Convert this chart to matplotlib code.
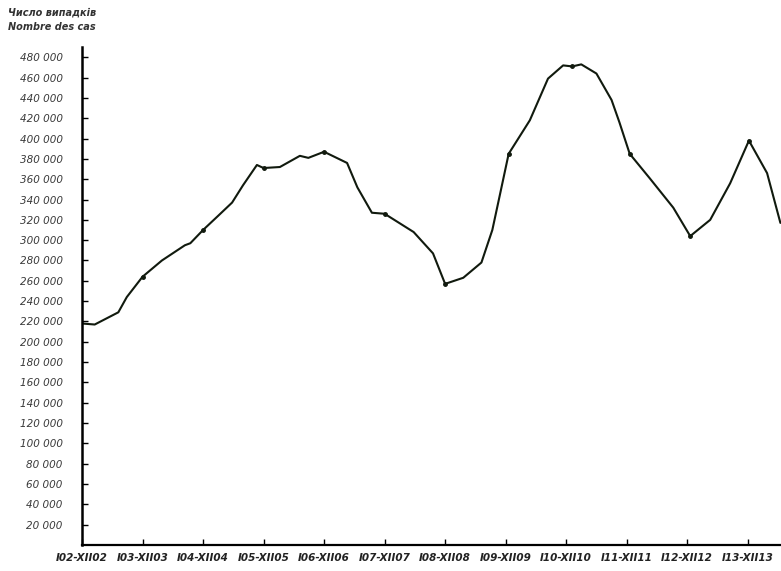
import matplotlib
matplotlib.use("Agg")
import matplotlib.pyplot as plt
from matplotlib.ticker import FixedLocator
import numpy as np

# position along the x axis in years since I.1902
year_pos = [0.0, 0.21, 0.60, 0.74, 1.0, 1.32, 1.70, 1.79, 2.0, 2.25, 2.48, 2.66,
            2.89, 3.0, 3.27, 3.60, 3.74, 4.0, 4.38, 4.55, 4.79, 5.0, 5.48, 5.80,
            6.0, 6.3, 6.6, 6.78, 6.91, 7.05, 7.4, 7.7, 7.95, 8.1, 8.25, 8.5,
            8.75, 8.88, 9.05, 9.38, 9.77, 10.05, 10.38, 10.71, 11.02, 11.32, 11.54]
cases = [218000, 217000, 229000, 244000, 264000, 280000, 295000, 297000, 310000,
         324000, 337000, 354000, 374000, 371000, 372000, 383000, 381000, 387000,
         376000, 352000, 327000, 326000, 308000, 287000, 257000, 263000, 278000,
         310000, 346000, 385000, 418000, 459000, 472000, 471000, 473000, 464000,
         438000, 416000, 385000, 361000, 332000, 304000, 320000, 356000, 398000,
         366000, 317000]
# the dots marked on the drawn curve (one per year)
dot_idx = [4, 8, 13, 17, 21, 24, 29, 33, 38, 41, 44]

period_labels = ["I02-XII02", "I03-XII03", "I04-XII04", "I05-XII05", "I06-XII06",
                 "I07-XII07", "I08-XII08", "I09-XII09", "I10-XII10", "I11-XII11",
                 "I12-XII12", "I13-XII13"]
y_ticks = list(range(20000, 480001, 20000))
y_big_ticks = [100000, 200000, 300000, 400000]

fig = plt.figure(figsize=(7.81, 5.71), dpi=100)
ax = fig.add_axes([0.105, 0.0455, 0.895, 0.872])

ax.plot(year_pos, cases, color="#111a0e", lw=1.5, solid_capstyle="round",
        solid_joinstyle="round", marker="o", markersize=2.5, markevery=dot_idx)

ax.set_xlim(0, 11.55)
ax.set_ylim(0, 490000)

for s in ["top", "right"]:
    ax.spines[s].set_visible(False)
ax.spines["left"].set_linewidth(1.8)
ax.spines["bottom"].set_linewidth(1.6)

ax.set_yticks(y_ticks)
ax.set_yticklabels([f"{v // 1000} 000" for v in y_ticks],
                   fontsize=7.5, style="italic", color="#3a3a3a")
ax.yaxis.set_minor_locator(FixedLocator(y_big_ticks))
ax.tick_params(axis="y", which="major", direction="in", length=4, width=1,
               pad=14)
ax.tick_params(axis="y", which="minor", direction="inout", length=9, width=1.2)

ax.set_xticks(range(len(period_labels)))
ax.set_xticklabels(period_labels, fontsize=7.5, style="italic",
                   fontweight="bold", color="#222")
ax.tick_params(axis="x", direction="in", length=4, width=1, pad=6)

fig.text(0.01, 0.972, "Число випадків", fontsize=7, style="italic",
         fontweight="bold", color="#333")
fig.text(0.01, 0.948, "Nombre des cas", fontsize=7, style="italic",
         fontweight="bold", color="#333")

fig.savefig("out.png", dpi=100, facecolor="white")
